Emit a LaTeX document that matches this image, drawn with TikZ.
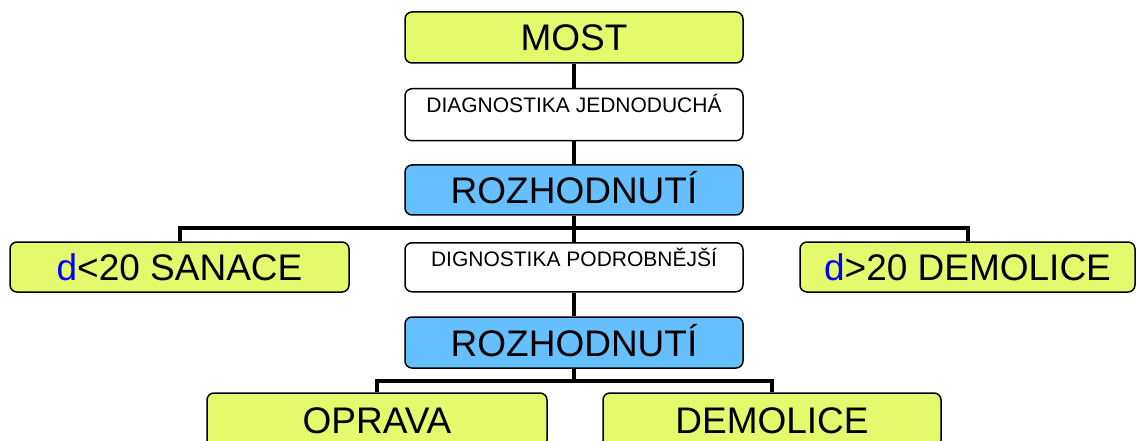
\documentclass[tikz,border=0pt]{standalone}
\usepackage{fontspec}
\setmainfont{Liberation Sans}
\usetikzlibrary{backgrounds}
\definecolor{ygreen}{HTML}{E4FA6C}
\definecolor{lblue}{HTML}{66C0FF}
\definecolor{dblue}{HTML}{0000FF}
\tikzset{
  box/.style={draw=black, line width=1.5pt, rounded corners=7pt, inner sep=0pt, align=center},
  big/.style={box, font=\fontsize{37}{40}\selectfont, text height=27pt, text depth=0pt},
  yel/.style={big, fill=ygreen},
  blu/.style={big, fill=lblue},
  diag/.style={box, fill=white, font=\fontsize{21}{24}\selectfont, anchor=north},
  conn/.style={line width=4pt, black},
}
\begin{document}
\begin{tikzpicture}[x=1pt,y=-1pt]
\useasboundingbox (0,0) rectangle (1136,441);
\node[yel, minimum width=338pt, minimum height=51pt] (most) at (574,37.5) {MOST};
\node[diag, minimum width=338pt, text height=24pt, text depth=28pt] (dj) at (574,88) {DIAGNOSTIKA JEDNODUCHÁ};
\node[blu, minimum width=338pt, minimum height=50pt] (r1) at (574,190) {ROZHODNUTÍ};
\node[yel, minimum width=339pt, minimum height=50pt] (san) at (179.5,267) {\textcolor{dblue}{d}<20 SANACE};
\node[diag, minimum width=338pt, text height=24pt, text depth=25pt] (dp) at (574,242) {DIGNOSTIKA PODROBNĚJŠÍ};
\node[yel, minimum width=335pt, minimum height=50pt] (dem1) at (967.5,267) {\textcolor{dblue}{d}>20 DEMOLICE};
\node[blu, minimum width=338pt, minimum height=51pt] (r2) at (574,342.5) {ROZHODNUTÍ};
\node[yel, minimum width=340pt, minimum height=54pt] (opr) at (377,420) {OPRAVA};
\node[yel, minimum width=338pt, minimum height=54pt] (dem2) at (772,420) {DEMOLICE};
\coordinate (b1) at (574,228);
\coordinate (b2) at (574,381);
\begin{scope}[on background layer]
\draw[conn] (most.south) -- (dj.north);
\draw[conn] (dj.south) -- (r1.north);
\draw[conn] (r1.south) -- (dp.north);
\draw[conn] (dp.south) -- (r2.north);
\draw[conn] (san.north) |- (b1) -| (dem1.north);
\draw[conn] (r2.south) -- (b2);
\draw[conn] (opr.north) |- (b2) -| (dem2.north);
\end{scope}
\end{tikzpicture}
\end{document}
